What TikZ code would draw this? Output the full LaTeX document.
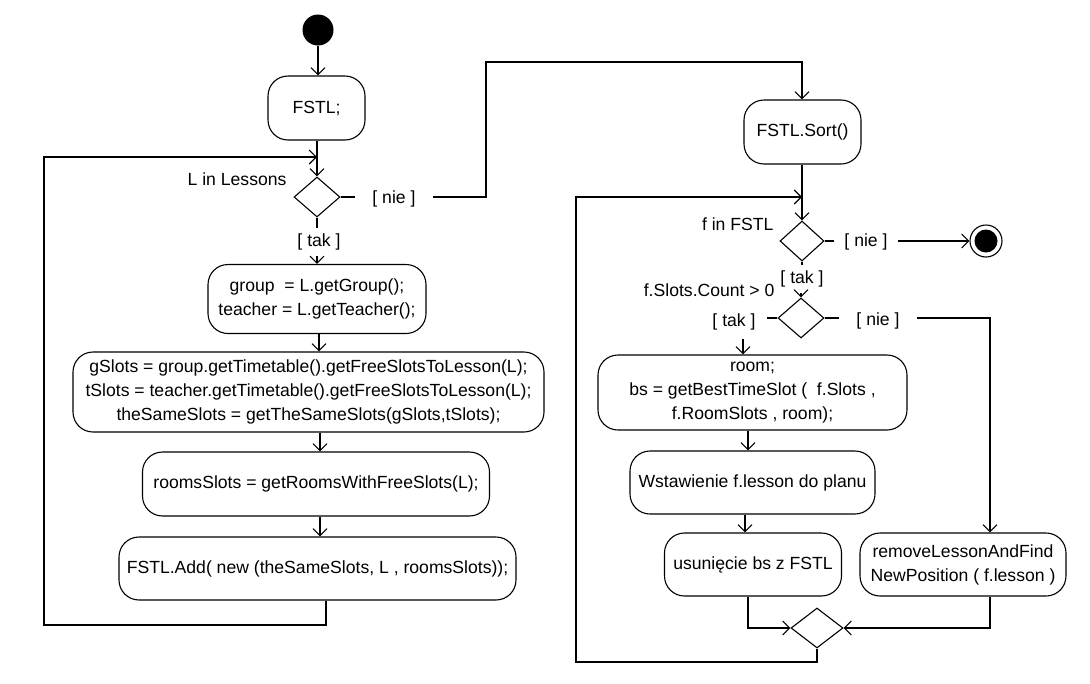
\documentclass[tikz,border=0pt]{standalone}
\usepackage{fontspec}
\setmainfont{Liberation Sans}
\usetikzlibrary{arrows.meta,shapes.geometric}
\begin{document}
\begin{tikzpicture}[x=1pt,y=-1pt,line width=1.1pt,
  every node/.style={font=\fontsize{17.6}{24}\selectfont},
  act/.style={draw,rounded corners=20pt,align=center,inner sep=0pt},
  dec/.style={draw,diamond,inner sep=0pt},
  lab/.style={inner sep=0pt},
  arr/.style={-{Straight Barb[length=7pt,width=14pt]}}]
\useasboundingbox (0,0) rectangle (1090,683);
% left column
\node[fill,circle,minimum size=31pt,inner sep=0pt] (start) at (318,30) {};
\node[act,minimum width=97pt,minimum height=64pt] (fstl) at (316.5,108) {FSTL;};
\node[dec,minimum width=46pt,minimum height=40pt] (d1) at (317,197) {};
\node[lab,anchor=east] (l1) at (287,179) {L in Lessons};
\node[lab,inner xsep=17pt] (nie1) at (394,199) {[ nie ]};
\node[lab,inner ysep=5pt] (tak1) at (319,242) {[ tak ]};
\node[act,minimum width=218pt,minimum height=69pt] (group) at (317,299) {group\ \ = L.getGroup();\\teacher = L.getTeacher();};
\node[act,minimum width=471pt,minimum height=80pt] (gslots) at (308.5,392) {gSlots = group.getTimetable().getFreeSlotsToLesson(L);\\tSlots = teacher.getTimetable().getFreeSlotsToLesson(L);\\theSameSlots = getTheSameSlots(gSlots,tSlots);};
\node[act,minimum width=347pt,minimum height=64pt] (rooms) at (316,484) {roomsSlots = getRoomsWithFreeSlots(L);};
\node[act,minimum width=397pt,minimum height=63pt] (add) at (317.5,568.5) {FSTL.Add( new (theSameSlots, L , roomsSlots));};
\coordinate (j1) at (317,157);
% right column
\node[act,minimum width=117pt,minimum height=64pt] (sort) at (802.5,132) {FSTL.Sort()};
\node[dec,minimum width=44pt,minimum height=40pt] (d2) at (802,241) {};
\node[lab,anchor=east] (l2) at (774,224) {f in FSTL};
\node[lab,inner xsep=10pt] (nie2) at (866,242) {[ nie ]};
\node[draw,circle,minimum size=32pt,inner sep=0pt] (fin) at (986,241) {};
\fill (fin.center) circle (11.5pt);
\node[lab,inner ysep=5pt] (tak2) at (802,279) {[ tak ]};
\node[dec,minimum width=46pt,minimum height=40pt] (d3) at (801,318) {};
\node[lab,anchor=east] (l3) at (775,290) {f.Slots.Count > 0};
\node[lab,inner xsep=11pt] (tak3) at (734,322) {[ tak ]};
\node[lab,inner xsep=17pt] (nie3) at (878,321) {[ nie ]};
\node[act,minimum width=309pt,minimum height=75pt] (room) at (752.5,392.5) {room;\\bs = getBestTimeSlot (\ \ f.Slots ,\\f.RoomSlots , room);};
\node[act,minimum width=245pt,minimum height=63pt] (wst) at (752.5,482.5) {Wstawienie f.lesson do planu};
\node[act,minimum width=177pt,minimum height=63pt] (usun) at (753,564.5) {usunięcie bs z FSTL};
\node[act,minimum width=206pt,minimum height=63pt] (remove) at (963,564.5) {removeLessonAndFind\\NewPosition ( f.lesson )};
\node[dec,minimum width=52pt,minimum height=40pt] (merge) at (817,628) {};
\coordinate (j2) at (802,197);
\coordinate (t3) at (743,339);
% connectors left
\draw[arr] (start) -- (fstl.north -| start);
\draw[arr] (fstl.south -| d1.north) -- (d1.north);
\draw (d1.east) -- (d1.east -| nie1.west);
\draw[arr] (d1.east -| nie1.east) -- (486,197) -- (486,62) -- (802,62) -- (sort.north -| 802,0);
\draw (d1.south) -- (tak1.north -| d1.south);
\draw[arr] (tak1.south -| d1.south) -- (group.north -| d1.south);
\draw[arr] (group.south -| 319,0) -- (gslots.north -| 319,0);
\draw[arr] (gslots.south -| 320,0) -- (rooms.north -| 320,0);
\draw[arr] (rooms.south -| 320,0) -- (add.north -| 320,0);
\draw[arr] (add.south -| 326,0) -- (326,625) -- (44,625) -- (44,157) -- (j1);
% connectors right
\draw[arr] (sort.south -| d2.north) -- (d2.north);
\draw (d2.east) -- (d2.east -| nie2.west);
\draw[arr] (d2.east -| nie2.east) -- (fin);
\draw (d2.south) -- (tak2.north -| d2.south);
\draw[arr] (tak2.south -| d3.north) -- (d3.north);
\draw (d3.west) -- (d3.west -| tak3.east);
\draw[arr] (t3) -- (room.north -| t3);
\draw (d3.east) -- (d3.east -| nie3.west);
\draw[arr] (d3.east -| nie3.east) -- (990,318) -- (remove.north -| 990,0);
\draw[arr] (room.south -| 748,0) -- (wst.north -| 748,0);
\draw[arr] (wst.south -| 745,0) -- (usun.north -| 745,0);
\draw[arr] (usun.south -| 748,0) |- (merge.west);
\draw[arr] (remove.south -| 990,0) |- (merge.east);
\draw[arr] (merge.south) -- (817,662) -- (576,662) -- (576,197) -- (j2);
\end{tikzpicture}
\end{document}
